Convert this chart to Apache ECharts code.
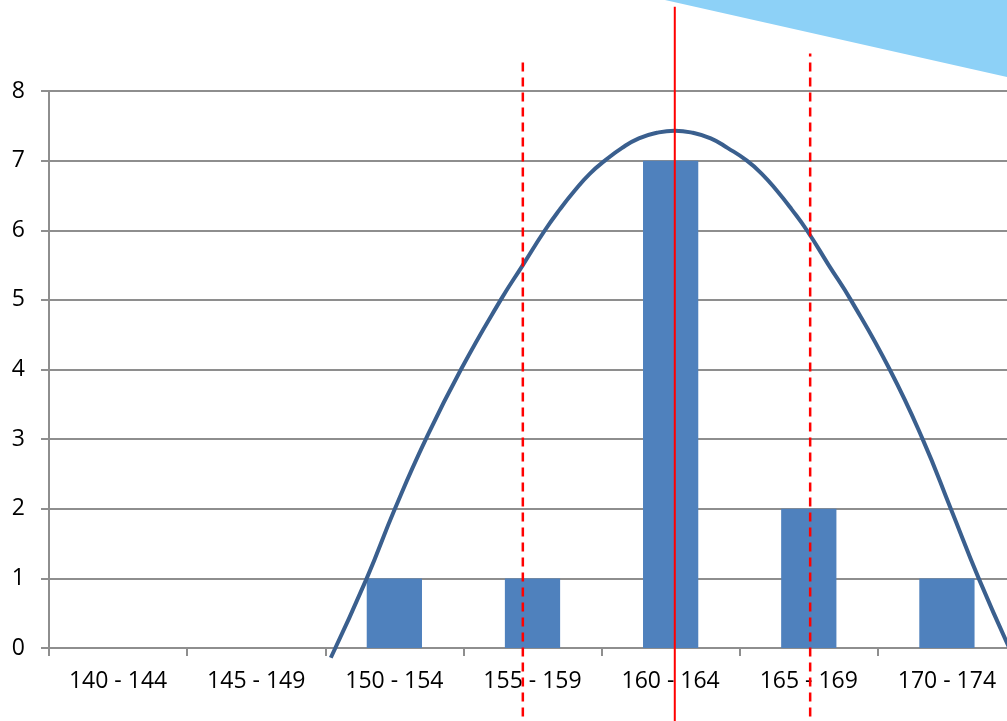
<!DOCTYPE html>
<html>
<head>
<meta charset="utf-8">
<script src="https://cdn.jsdelivr.net/npm/echarts@6/dist/echarts.min.js"></script>
<style>
  html, body { margin: 0; padding: 0; background: #fff; }
  #chart { width: 1007px; height: 721px; }
</style>
</head>
<body>
<div id="chart"></div>
<script>
// Height classes (cm) and how many people fall in each
const categories = ['140 - 144', '145 - 149', '150 - 154', '155 - 159', '160 - 164', '165 - 169', '170 - 174'];
const counts = [0, 0, 1, 1, 7, 2, 1];

// Fitted bell curve, sampled as [height cm, frequency]
const curveX = [149.70, 151.00, 152.02, 153.14, 154.41, 155.85, 156.65, 157.45, 157.99, 158.53,
                159.07, 159.62, 160.23, 160.85, 161.50, 162.15,
                162.80, 163.45, 164.07, 164.76, 165.30, 165.84, 166.38, 166.93, 167.72, 168.52,
                169.93, 171.12, 172.14, 173.15, 174.42];
const curveY = [-0.14, 1, 2, 3, 4, 5, 5.5, 6, 6.3, 6.57,
                6.81, 7, 7.18, 7.32, 7.4, 7.43,
                7.4, 7.32, 7.18, 7, 6.81, 6.57, 6.3, 6, 5.5, 5,
                4, 3, 2, 1, -0.14];

// Mean and one standard deviation either side (cm), with how far each marker reaches
const meanX = 162.15;
const sdLowX = 156.65;
const sdHighX = 167.05;
const meanSpan = [-1.2, 9.21];
const sdLowSpan = [-1.2, 8.48];
const sdHighSpan = [-1.2, 8.54];

const yTicks = [0, 1, 2, 3, 4, 5, 6, 7, 8];

const curveData = curveX.map((x, i) => [x, curveY[i]]);
const vline = (x, span) => span.map(y => [x, y]);

const chart = echarts.init(document.getElementById('chart'), null, { renderer: 'canvas' });
const gridGrey = '#8e8e8e';
const font = '"Open Sans", "Liberation Sans", sans-serif';

chart.setOption({
  animation: false,
  backgroundColor: '#ffffff',
  // the last class runs a little past the right edge of the page
  grid: { left: 49, width: 967, top: 91, bottom: 73, containLabel: false, outerBoundsMode: 'none' },
  xAxis: [
    {
      type: 'category',
      data: categories,
      boundaryGap: true,
      axisLine: { lineStyle: { color: gridGrey, width: 2 } },
      axisTick: { show: true, length: 8, lineStyle: { color: gridGrey, width: 2 } },
      axisLabel: { color: '#000', fontSize: 23, fontFamily: font, margin: 22, interval: 0 },
      splitLine: { show: false }
    },
    {
      type: 'value',
      min: 139.5,
      max: 174.5,
      show: false,
      splitLine: { show: false }
    }
  ],
  yAxis: {
    type: 'value',
    min: yTicks[0],
    max: yTicks[yTicks.length - 1],
    interval: 1,
    axisLine: { show: true, lineStyle: { color: gridGrey, width: 2 } },
    axisTick: { show: true, length: 8, lineStyle: { color: gridGrey, width: 2 } },
    axisLabel: { color: '#000', fontSize: 23, fontFamily: font, margin: 24 },
    splitLine: { show: true, lineStyle: { color: gridGrey, width: 2 } }
  },
  graphic: [
    {
      type: 'polygon',
      z: 100,
      shape: { points: [[665, 0], [1007, 0], [1007, 77]] },
      style: { fill: '#8dd1f7' }
    }
  ],
  series: [
    {
      type: 'bar',
      xAxisIndex: 0,
      data: counts,
      barWidth: '40%',
      itemStyle: { color: '#4f81bd' },
      z: 2
    },
    {
      type: 'line',
      xAxisIndex: 1,
      data: curveData,
      smooth: 0.5,
      symbol: 'none',
      clip: false,
      lineStyle: { color: '#3a5f8e', width: 4 },
      z: 3
    },
    {
      type: 'line',
      xAxisIndex: 1,
      data: vline(meanX, meanSpan),
      symbol: 'none',
      clip: false,
      lineStyle: { color: '#ff0000', width: 2 },
      z: 4
    },
    {
      type: 'line',
      xAxisIndex: 1,
      data: vline(sdLowX, sdLowSpan),
      symbol: 'none',
      clip: false,
      lineStyle: { color: '#ff0000', width: 2.5, type: [9, 6] },
      z: 4
    },
    {
      type: 'line',
      xAxisIndex: 1,
      data: vline(sdHighX, sdHighSpan),
      symbol: 'none',
      clip: false,
      lineStyle: { color: '#ff0000', width: 2.5, type: [9, 6] },
      z: 4
    }
  ]
});
</script>
</body>
</html>
